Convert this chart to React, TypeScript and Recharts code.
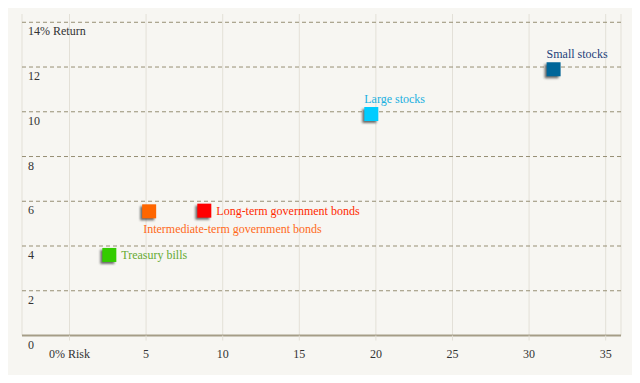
import React from "react";
import { ScatterChart, Scatter, XAxis, YAxis, CartesianGrid, ReferenceLine } from "recharts";

const assetNames = [
  "Treasury bills",
  "Intermediate-term government bonds",
  "Long-term government bonds",
  "Large stocks",
  "Small stocks",
];
const riskValues = [2.6, 5.2, 8.8, 19.7, 31.6];
const returnValues = [3.6, 5.55, 5.58, 9.9, 11.9];

const xTicks = [0, 5, 10, 15, 20, 25, 30, 35];
const yTicks = [0, 2, 4, 6, 8, 10, 12, 14];
const xTickLabels = ["0% Risk", "5", "10", "15", "20", "25", "30", "35"];
const yTickLabels = ["0", "2", "4", "6", "8", "10", "12", "14% Return"];

const styles = [
  { fill: "#33cc00", text: "#66aa33", pos: "right" },
  { fill: "#ff6600", text: "#ff6a1a", pos: "below" },
  { fill: "#ff0000", text: "#ff2a00", pos: "right" },
  { fill: "#00ccff", text: "#1ab0e0", pos: "above" },
  { fill: "#006699", text: "#1d3f7a", pos: "above" },
];

const FONT = "Liberation Serif, Times New Roman, serif";

const series = assetNames.map((name, i) => ({
  name,
  data: [{ risk: riskValues[i], ret: returnValues[i], name }],
  style: styles[i],
  idx: i,
}));

const makeShape = (style: any, idx: number) => (props: any) => {
  const { cx, cy, payload } = props;
  const s = 14;
  let tx = cx + 12;
  let ty = cy + 4.5;
  if (style.pos === "below") {
    tx = cx - 6;
    ty = cy + 21.5;
  } else if (style.pos === "above") {
    tx = cx - 7;
    ty = cy - 11;
  }
  const fid = `blur${idx}`;
  return (
    <g>
      <defs>
        <filter id={fid} x="-50%" y="-50%" width="200%" height="200%">
          <feGaussianBlur stdDeviation="0.8" />
        </filter>
      </defs>
      <rect x={cx - s / 2 - 2} y={cy - s / 2 + 2} width={s} height={s} fill="#333" opacity={0.7} filter={`url(#${fid})`} />
      <rect x={cx - s / 2} y={cy - s / 2} width={s} height={s} fill={style.fill} />
      <text x={tx} y={ty} fill={style.text} fontSize={12} style={{ fontFamily: FONT }}>
        {payload.name}
      </text>
    </g>
  );
};

const YTick = (props: any) => {
  const { y, payload } = props;
  const i = yTicks.indexOf(payload.value);
  return (
    <text x={28} y={y + 13} fill="#333" fontSize={12} style={{ fontFamily: FONT }} textAnchor="start">
      {yTickLabels[i]}
    </text>
  );
};

const XTick = (props: any) => {
  const { x, payload } = props;
  const i = xTicks.indexOf(payload.value);
  return (
    <text x={x} y={358} fill="#333" fontSize={12} style={{ fontFamily: FONT }} textAnchor="middle">
      {xTickLabels[i]}
    </text>
  );
};

export default function App() {
  return (
    <div style={{ position: "relative", width: 640, height: 383, margin: -8, background: "#fff", overflow: "hidden", fontFamily: FONT }}>
      <div
        style={{
          position: "absolute",
          left: 3,
          top: 3,
          width: 628,
          height: 371,
          background: "#f7f6f2",
          border: "1px solid #e2e1dc",
          boxShadow: "1px 2px 3px rgba(0,0,0,0.28)",
        }}
      />
      <div
        style={{
          position: "absolute",
          left: 5,
          top: 8,
          width: 3,
          height: 366,
          background: "linear-gradient(to right, #8e8e8e, #c8c8c8)",
        }}
      />
      <div style={{ position: "absolute", left: 0, top: 0 }}>
        <ScatterChart width={640} height={383} margin={{ top: 14, right: 19, bottom: 17.5, left: 21 }}>
          <CartesianGrid horizontal={false} vertical={true} stroke="#e3e0d7" strokeWidth={1} />
          {yTicks
            .filter((t) => t > 0)
            .map((t) => (
              <ReferenceLine key={t} y={t} stroke="#978f74" strokeDasharray="4 3" strokeWidth={1} />
            ))}
          <XAxis
            type="number"
            dataKey="risk"
            domain={[-3.1, 36]}
            ticks={xTicks}
            height={30}
            axisLine={{ stroke: "#a59d87", strokeWidth: 2 }}
            tickLine={{ stroke: "#e3e0d7" }}
            tickSize={5}
            tick={<XTick />}
            allowDataOverflow
          />
          <YAxis
            type="number"
            dataKey="ret"
            domain={[0, 14.37]}
            ticks={yTicks}
            width={1}
            axisLine={false}
            tickLine={false}
            tick={<YTick />}
            allowDataOverflow
          />
          {series.map((s) => (
            <Scatter
              key={s.name}
              name={s.name}
              data={s.data}
              isAnimationActive={false}
              shape={makeShape(s.style, s.idx)}
            />
          ))}
        </ScatterChart>
      </div>
    </div>
  );
}
